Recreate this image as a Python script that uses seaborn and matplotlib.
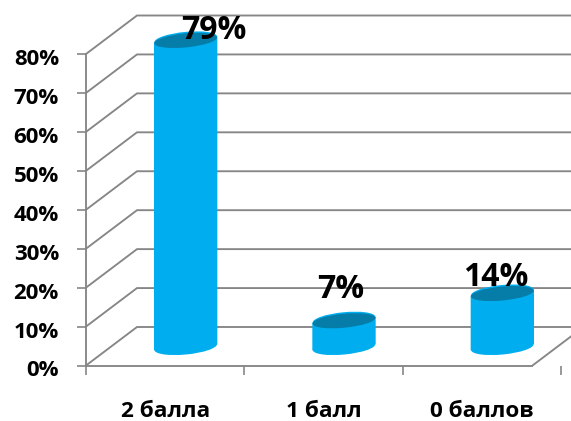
import matplotlib
matplotlib.use("Agg")
import matplotlib.pyplot as plt
import seaborn as sns
import pandas as pd
import numpy as np
from matplotlib.patches import Ellipse
from matplotlib.transforms import Affine2D, ScaledTranslation

categories = ["2 балла", "1 балл", "0 баллов"]
values = [0.79, 0.07, 0.14]
value_labels = ["79%", "7%", "14%"]
y_ticks = [0, 0.1, 0.2, 0.3, 0.4, 0.5, 0.6, 0.7, 0.8]
y_tick_labels = ["0%", "10%", "20%", "30%", "40%", "50%", "60%", "70%", "80%"]

BAR = "#00AEEF"
TOP = "#067DA8"
GRID = "#868686"
FONT = ["Open Sans", "DejaVu Sans"]
W, H = 571, 421

sns.set_theme(style="white")
plt.rcParams["font.family"] = FONT
fig = plt.figure(figsize=(W / 100, H / 100), dpi=100, facecolor="white")
ax = fig.add_axes([86 / W, 1 - 365.5 / H, 475 / W, 311.5 / H])
ax.patch.set_alpha(0)

df = pd.DataFrame({"cat": categories, "val": values})
sns.barplot(data=df, x="cat", y="val", color=BAR, saturation=1, width=0.4, ax=ax, zorder=3)
ax.set_xlim(-0.5, 2.5)
ax.set_ylim(0, 0.8)
ax.set_xlabel("")
ax.set_ylabel("")
ax.grid(False)

# oblique back-wall gridlines, in data units
DX = 51 / (475 / 3)
DY = 38.5 / (311.5 / 0.8)
for v in y_ticks:
    ax.plot([-0.5, -0.5 + DX, 3.2], [v, v + DY, v + DY], color=GRID, lw=1.35,
            clip_on=False, zorder=1, solid_joinstyle="miter")
# floor right edge
fx = 2.32
ax.plot([fx, fx + DX], [0, DY], color=GRID, lw=1.35, clip_on=False, zorder=1)

# axes lines and ticks
for s in ["top", "right"]:
    ax.spines[s].set_visible(False)
for s in ["left", "bottom"]:
    ax.spines[s].set_color(GRID)
    ax.spines[s].set_linewidth(1.35)
ax.spines["bottom"].set_bounds(-0.5, fx)
ax.set_yticks(y_ticks)
ax.set_yticklabels(y_tick_labels, fontsize=16, fontweight="bold", color="black")
ax.tick_params(axis="y", length=6.5, width=1.2, color=GRID, pad=13, left=True)
ax.set_xticks(range(3))
ax.set_xticklabels(categories, fontsize=16.2, fontweight="bold", color="black")
ax.set_xticks([-0.5, 0.5, 1.5, 2.5], minor=True)
ax.tick_params(axis="x", which="major", length=0, pad=25.5)
ax.tick_params(axis="x", which="minor", length=6.5, width=1.2, color=GRID, bottom=True)
shift = Affine2D().translate(0, -3)
for lab in ax.get_yticklabels():
    lab.set_transform(lab.get_transform() + shift)

# cylinders: bar bodies skewed along the tilted ellipses, with rounded ends
depth_x, depth_y = 20.5, 18.5
tilt = np.deg2rad(5.5)
bw, eh = 63, 15
fig.canvas.draw()
for i, (p, v) in enumerate(zip(ax.patches, values)):
    cx = ax.transData.transform((i, 0))[0]
    p.set_transform(ax.transData + Affine2D().translate(-cx, 0).skew(0, tilt)
                    .translate(cx + depth_x, depth_y))
    p.set_linewidth(0)
    p.set_clip_on(False)
    for val, col, dy, zo, h in [(0, BAR, 0, 2.9, eh),
                                (v, BAR, 0, 3.1, eh),
                                (v, TOP, -1, 3.2, eh - 1)]:
        tr = Affine2D().translate(depth_x, depth_y + dy) + ScaledTranslation(i, val, ax.transData)
        e = Ellipse((0, 0), bw, h, angle=np.rad2deg(tilt), facecolor=col, edgecolor="none",
                    transform=tr, clip_on=False, zorder=zo)
        ax.add_patch(e)

# value labels
offsets = [(49, 27), (17, 49), (14, 33)]
for i, (v, t, off) in enumerate(zip(values, value_labels, offsets)):
    ax.annotate(t, xy=(i, v), xytext=(off[0] * 0.72, off[1] * 0.72), textcoords="offset points",
                ha="center", va="center", fontsize=23, fontweight="bold", color="black",
                annotation_clip=False, zorder=5)

fig.savefig("out.png", dpi=100, facecolor="white")
